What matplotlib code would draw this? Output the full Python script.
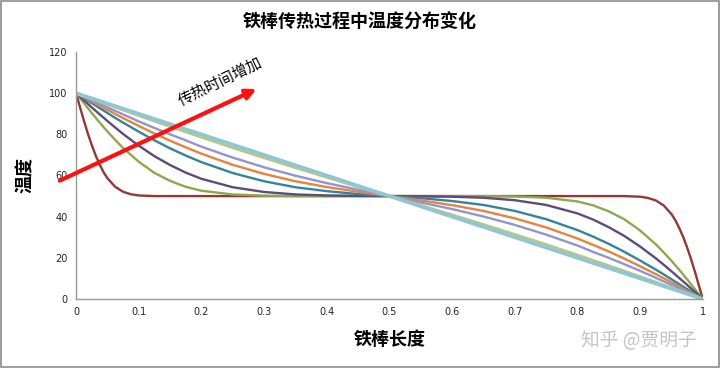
import matplotlib
matplotlib.use('Agg')
import matplotlib.pyplot as plt
from matplotlib.patches import Rectangle

plt.rcParams['font.family'] = ['Noto Sans CJK SC', 'DejaVu Sans']

# positions along the rod
X = [0, 0.0125, 0.025, 0.0375, 0.05, 0.0625, 0.075, 0.1, 0.125, 0.15, 0.175, 0.2,
     0.25, 0.3, 0.35, 0.4, 0.45, 0.5, 0.55, 0.6, 0.65, 0.7, 0.75, 0.8, 0.825,
     0.85, 0.875, 0.9, 0.925, 0.9375, 0.95, 0.9625, 0.975, 0.9875, 1]

# the earliest curve changes fast near the ends, so it is read more densely
X1 = [0, 0.00625, 0.0125, 0.01875, 0.025, 0.03125, 0.0375, 0.04375, 0.05, 0.0625,
      0.075, 0.0875, 0.1, 0.125, 0.5, 0.875, 0.9, 0.9125, 0.925, 0.9375, 0.95,
      0.95625, 0.9625, 0.96875, 0.975, 0.98125, 0.9875, 0.99375, 1]
T1 = [100, 93.3, 86.7, 80.5, 74.9, 69.8, 65.5, 61.7, 58.7, 54.5,
      52.1, 50.9, 50.3, 50, 50, 50, 49.7, 49.1, 47.9, 45.5, 41.3,
      38.3, 34.5, 30.2, 25.1, 19.5, 13.3, 6.7, 0]

# later curves, earliest to latest
T2 = [100, 95.2, 90.4, 85.8, 81.4, 77.3, 73.4, 66.7, 61.3, 57.4, 54.5, 52.6,
      50.8, 50.2, 50, 50, 50, 50, 50, 50, 50, 49.8, 49.2, 47.4, 45.5,
      42.6, 38.7, 33.3, 26.6, 22.7, 18.6, 14.2, 9.6, 4.8, 0]
T3 = [100, 96.6, 93.1, 89.8, 86.5, 83.3, 80.2, 74.5, 69.4, 65.1, 61.4, 58.4,
      54.3, 52.0, 50.8, 50.3, 50.1, 50, 49.9, 49.7, 49.2, 48.0, 45.7, 41.6, 38.6,
      34.9, 30.6, 25.5, 19.8, 16.7, 13.5, 10.2, 6.9, 3.4, 0]
T4 = [100, 97.6, 95.2, 92.8, 90.4, 88.0, 85.7, 81.3, 77.1, 73.2, 69.7, 66.5,
      61.2, 57.2, 54.3, 52.4, 51.0, 50, 49.0, 47.6, 45.7, 42.8, 38.8, 33.5, 30.3,
      26.8, 22.9, 18.7, 14.3, 12.0, 9.6, 7.2, 4.8, 2.4, 0]
T5 = [100, 98.0, 96.0, 93.9, 91.9, 89.9, 87.9, 84.1, 80.4, 76.9, 73.7, 70.6,
      65.2, 60.8, 57.2, 54.4, 52.1, 50, 47.9, 45.6, 42.8, 39.2, 34.8, 29.4, 26.3,
      23.1, 19.6, 15.9, 12.1, 10.1, 8.1, 6.1, 4.0, 2.0, 0]
T6 = [100, 98.3, 96.5, 94.8, 93.1, 91.4, 89.7, 86.3, 83.1, 80.0, 77.1, 74.0,
      68.7, 64.0, 59.9, 56.3, 53.1, 50, 46.9, 43.7, 40.1, 36.0, 31.3, 26.0, 22.9,
      20.0, 16.9, 13.7, 10.3, 8.6, 6.9, 5.2, 3.5, 1.7, 0]
T7 = [100, 98.6, 97.3, 95.9, 94.5, 93.2, 91.8, 89.1, 86.4, 83.8, 81.2, 78.6,
      73.5, 68.6, 63.8, 59.1, 54.5, 50, 45.5, 40.9, 36.2, 31.4, 26.5, 21.4, 18.8,
      16.2, 13.6, 10.9, 8.2, 6.8, 5.5, 4.1, 2.7, 1.4, 0]
T8 = [100, 98.75, 97.5, 96.25, 95, 93.75, 92.5, 90, 87.5, 85, 82.5, 80,
      75, 70, 65, 60, 55, 50, 45, 40, 35, 30, 25, 20, 17.5,
      15, 12.5, 10, 7.5, 6.25, 5, 3.75, 2.5, 1.25, 0]

CURVES = [(X1, T1), (X, T2), (X, T3), (X, T4), (X, T5), (X, T6), (X, T7), (X, T8)]
COLOURS = ['#953735', '#8DAA4B', '#604A7B', '#31859C',
           '#E8833A', '#9294D0', '#B3C98A', '#8FC6D2']
WIDTHS = [1.7, 1.7, 1.7, 1.7, 1.7, 1.7, 2.0, 2.6]

X_TICKS = [0, 0.1, 0.2, 0.3, 0.4, 0.5, 0.6, 0.7, 0.8, 0.9, 1]
X_TICK_LABELS = ['0', '0.1', '0.2', '0.3', '0.4', '0.5', '0.6', '0.7', '0.8', '0.9', '1']
Y_TICKS = [0, 20, 40, 60, 80, 100, 120]

fig = plt.figure(figsize=(7.2, 3.68), dpi=100)
ax = fig.add_axes([0.1056, 0.1875, 0.8704, 0.6712])

for (xs, t), c, w in zip(CURVES, COLOURS, WIDTHS):
    ax.plot(xs, t, color=c, linewidth=w, solid_capstyle='round', solid_joinstyle='round')

ax.set_xlim(0, 1)
ax.set_ylim(0, 120)
ax.set_xticks(X_TICKS)
ax.set_xticklabels(X_TICK_LABELS)
ax.set_yticks(Y_TICKS)
ax.tick_params(axis='both', length=0, labelsize=7, colors='#222222', pad=6)
for s in ['top', 'right']:
    ax.spines[s].set_visible(False)
for s in ['left', 'bottom']:
    ax.spines[s].set_color('#999999')
    ax.spines[s].set_linewidth(1.0)
for lbl in ax.get_xticklabels() + ax.get_yticklabels():
    lbl.set_family('DejaVu Sans')

ax.set_xlabel('铁棒长度', fontsize=13, fontweight='bold', labelpad=9)
ax.set_ylabel('温度', fontsize=13, fontweight='bold', labelpad=10)
fig.suptitle('铁棒传热过程中温度分布变化', fontsize=13, fontweight='bold', y=0.965)

# arrow showing time direction
ax.annotate('', xy=(0.288, 102), xytext=(-0.026, 57.5),
            arrowprops=dict(arrowstyle='-|>,head_length=0.6,head_width=0.3',
                            color='#FF1010', lw=3.0, shrinkA=0, shrinkB=0),
            annotation_clip=False)
ax.text(0.23, 105.5, '传热时间增加', rotation=26, fontsize=11,
        ha='center', va='center', color='black')

fig.text(0.887, 0.075, '知乎 @贾明子', fontsize=13.5, color='#C4C4C4',
         ha='center', va='center')

fig.patches.append(Rectangle((0.001, 0.002), 0.997, 0.995, transform=fig.transFigure,
                             fill=False, edgecolor='#8C8C8C', linewidth=1.2))

plt.savefig('out.png', dpi=100)
